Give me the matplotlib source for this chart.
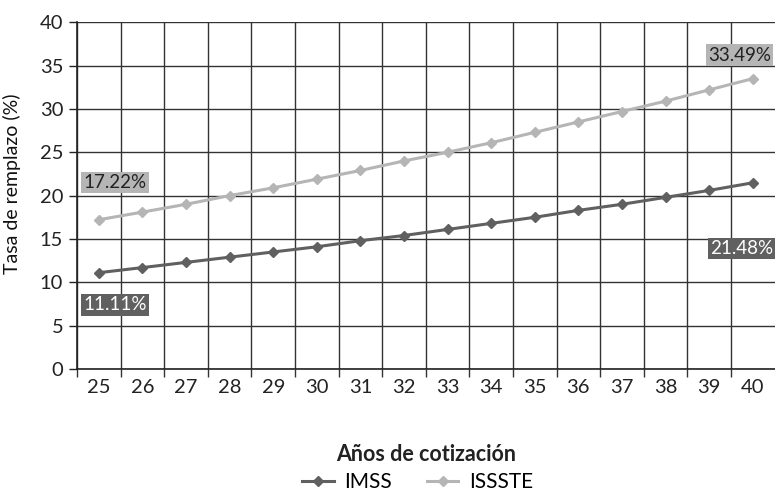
import matplotlib
matplotlib.use("Agg")
import matplotlib.pyplot as plt
from matplotlib.ticker import FixedLocator

plt.rcParams['font.family'] = ['Lato', 'DejaVu Sans']

years = list(range(25, 41))
imss = [11.11, 11.7, 12.3, 12.9, 13.5, 14.1, 14.8, 15.4, 16.1, 16.8, 17.5, 18.3, 19.0, 19.8, 20.6, 21.48]
issste = [17.22, 18.1, 19.0, 20.0, 20.9, 21.9, 22.9, 24.0, 25.0, 26.1, 27.3, 28.5, 29.7, 30.9, 32.2, 33.49]
series_names = ["IMSS", "ISSSTE"]
imss_color = "#606060"
issste_color = "#b5b5b5"

fig = plt.figure(figsize=(7.75, 4.94), dpi=100)
ax = fig.add_axes([0.0994, 0.253, 0.9, 0.702])

ax.plot(years, imss, color=imss_color, lw=2.2, marker="D", ms=5, label=series_names[0], zorder=3)
ax.plot(years, issste, color=issste_color, lw=2.2, marker="D", ms=5, label=series_names[1], zorder=3)

ax.set_xlim(years[0] - 0.5, years[-1] + 0.5)
ax.set_ylim(0, 40)
ax.set_yticks(range(0, 41, 5))
ax.set_xticks(years)
ax.xaxis.set_minor_locator(FixedLocator([y + 0.5 for y in years[:-1]] + [years[0] - 0.5]))
ax.tick_params(axis='x', which='major', length=0, labelsize=14.5, pad=7, colors="#222222")
ax.tick_params(axis='x', which='minor', length=6, width=1, color="#333333")
ax.tick_params(axis='y', length=6, width=1, labelsize=14.5, colors="#222222", pad=4)
ax.grid(True, axis='y', color="#333333", lw=1)
ax.grid(True, axis='x', which='minor', color="#333333", lw=1)
ax.set_axisbelow(True)
for s in ["top", "right"]:
    ax.spines[s].set_visible(False)
ax.spines["left"].set_color("#222222")
ax.spines["bottom"].set_color("#222222")
ax.spines["left"].set_linewidth(1.2)
ax.spines["bottom"].set_linewidth(1.2)

ax.set_ylabel("Tasa de remplazo (%)", fontsize=14, color="#111111")
ax.yaxis.set_label_coords(-0.08, 0.535)
ax.set_xlabel("Años de cotización", fontsize=15.5, fontweight="bold", color="#222222", labelpad=35)

bbox_light = dict(boxstyle="square,pad=0.12", fc=issste_color, ec="none")
bbox_dark = dict(boxstyle="square,pad=0.12", fc=imss_color, ec="none")
ax.text(24.65, 21.5, f"{issste[0]:.2f}%", fontsize=13.5, color="#222222", va="center", ha="left", bbox=bbox_light, zorder=5)
ax.text(24.65, 7.4, f"{imss[0]:.2f}%", fontsize=13.5, color="white", va="center", ha="left", bbox=bbox_dark, zorder=5)
ax.text(40.42, 36.2, f"{issste[-1]:.2f}%", fontsize=13.5, color="#222222", va="center", ha="right", bbox=bbox_light, zorder=5)
ax.text(40.47, 13.9, f"{imss[-1]:.2f}%", fontsize=13.5, color="white", va="center", ha="right", bbox=bbox_dark, zorder=5)

fig.legend(loc="center", bbox_to_anchor=(0.539, 0.024), ncol=2, frameon=False, borderpad=0.0,
           fontsize=15, handlelength=1.5, columnspacing=1.7, handletextpad=0.5)

fig.savefig("out.png", dpi=100)
